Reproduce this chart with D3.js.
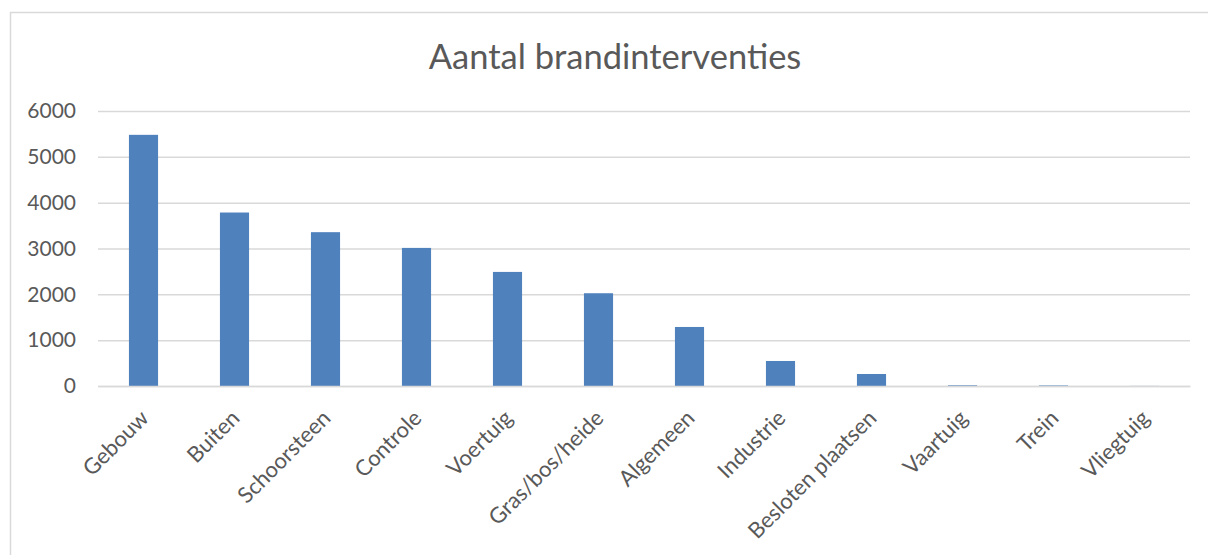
<head>
    <meta charset="utf-8">
    <script src="https://d3js.org/d3.v7.min.js"></script>
    <style>
        body { margin: 0; background: #fff; }
        text { font-family: Lato, "Open Sans", sans-serif; fill: #595959; }
    </style>
</head>
<body>
<svg width="1208" height="555"></svg>
<script>

    var categories = ["Gebouw", "Buiten", "Schoorsteen", "Controle", "Voertuig", "Gras/bos/heide",
        "Algemeen", "Industrie", "Besloten plaatsen", "Vaartuig", "Trein", "Vliegtuig"];
    var values = [5480, 3785, 3356, 3013, 2489, 2024, 1288, 546, 262, 15, 12, 2];
    var yTicks = [0, 1000, 2000, 3000, 4000, 5000, 6000];

    var svg = d3.select("svg"),
        margin = {top: 111, right: 18, bottom: 169, left: 98},
        width = 1208 - margin.left - margin.right,
        height = 555 - margin.top - margin.bottom;

    // chart area border
    svg.append("rect")
        .attr("x", 10.5).attr("y", 12.5)
        .attr("width", 1220).attr("height", 600)
        .attr("fill", "none")
        .attr("stroke", "#d9d9d9")
        .attr("stroke-width", 1.5)

    svg.append("text")
        .attr("x", 615).attr("y", 69)
        .attr("text-anchor", "middle")
        .style("font-size", "34.5px")
        .text("Aantal brandinterventies")

    var g = svg.append("g").attr("transform", "translate(" + margin.left + "," + margin.top + ")")

    var x = d3.scaleBand()
        .domain(categories)
        .range([0, width])
        .paddingInner(0.68)
        .paddingOuter(0.34);

    var y = d3.scaleLinear()
        .domain([0, 6000])
        .range([height, 0]);

    // gridlines
    g.append("g")
        .call(d3.axisLeft(y).tickValues(yTicks).tickSize(-width).tickFormat(""))
        .call(a => a.select(".domain").remove())
        .selectAll("line")
        .attr("stroke", "#d9d9d9")
        .attr("stroke-width", 1.5)

    g.selectAll(".bar")
        .data(values)
        .enter().append("rect")
        .attr("class", "bar")
        .attr("x", (d, i) => x(categories[i]))
        .attr("y", d => y(d))
        .attr("width", x.bandwidth())
        .attr("height", d => height - y(d))
        .attr("fill", "#4f81bd")

    // y labels
    g.append("g")
        .call(d3.axisLeft(y).tickValues(yTicks).tickSize(0).tickPadding(22).tickFormat(d3.format("d")))
        .call(a => a.select(".domain").remove())
        .selectAll("text")
        .style("font-size", "21px")
        .attr("fill", "#595959")

    // x labels
    var xa = g.append("g")
        .attr("transform", "translate(0," + height + ")")
        .call(d3.axisBottom(x).tickSize(0))
    xa.select(".domain")
        .attr("stroke", "#d9d9d9")
        .attr("stroke-width", 1.5)
    xa.selectAll("text")
        .style("font-size", "22px")
        .attr("fill", "#595959")
        .attr("text-anchor", "end")
        .attr("dy", "0.35em")
        .attr("transform", "translate(1,28) rotate(-45)")
        .attr("y", 0)

</script>
</body>
